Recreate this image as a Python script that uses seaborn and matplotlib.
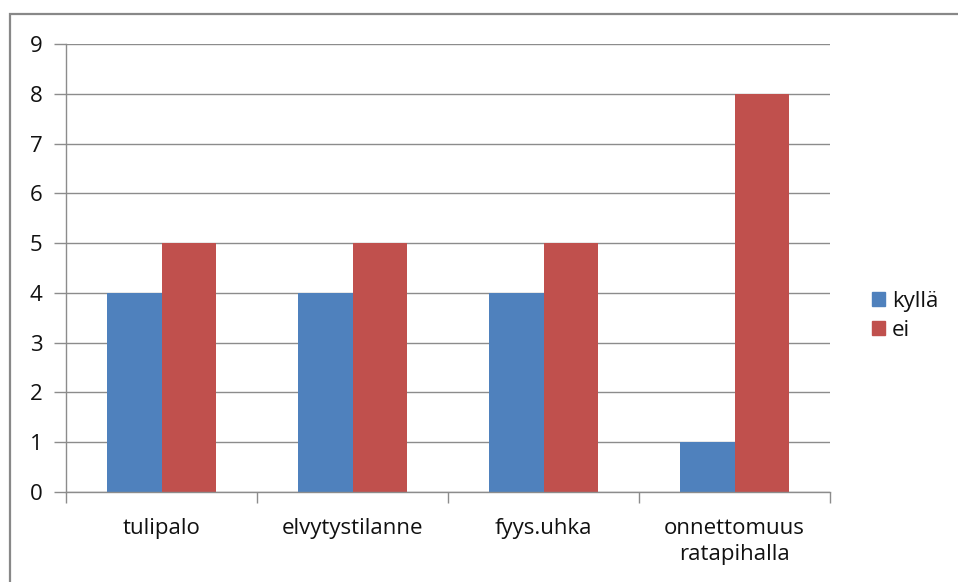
import matplotlib
matplotlib.use("Agg")
import matplotlib.pyplot as plt
import matplotlib.patches as mpatches
import numpy as np
import pandas as pd
import seaborn as sns

# data
categories = ["tulipalo", "elvytystilanne", "fyys.uhka", "onnettomuus\nratapihalla"]
kylla = [4, 4, 4, 1]
ei = [5, 5, 5, 8]
series_names = ["kyllä", "ei"]
colors = ["#4F81BD", "#C0504D"]

df = pd.DataFrame({
    "kategoria": categories * 2,
    "sarja": [series_names[0]] * 4 + [series_names[1]] * 4,
    "arvo": kylla + ei,
})

sns.set_style("white")
plt.rcParams["font.family"] = ["Open Sans", "DejaVu Sans"]

W, H = 958, 582
fig = plt.figure(figsize=(W / 100, H / 100), dpi=100)
ax = fig.add_axes([66 / W, (H - 492) / H, (830 - 66) / W, (492 - 44) / H])

sns.barplot(data=df, x="kategoria", y="arvo", hue="sarja", order=categories,
            hue_order=series_names, palette=colors, width=0.575, gap=0,
            saturation=1, edgecolor="none", linewidth=0, legend=True, ax=ax)

grid_c = "#8C8C8C"
txt_c = "#111111"
ax.set_xlim(-0.5, 3.5)
ax.set_ylim(0, 9)
ax.set_yticks(range(0, 10))
ax.yaxis.grid(True, color=grid_c, linewidth=1)
ax.set_axisbelow(True)
for s in ["top", "right"]:
    ax.spines[s].set_visible(False)
for s in ["left", "bottom"]:
    ax.spines[s].set_color(grid_c)
    ax.spines[s].set_linewidth(1)

ax.set_xlabel("")
ax.set_ylabel("")
ax.tick_params(axis="y", left=True, length=9, width=1, color=grid_c,
               labelsize=16, labelcolor=txt_c, pad=8)
ax.tick_params(axis="x", which="major", bottom=False, labelsize=16,
               labelcolor=txt_c, pad=15)
for lab in ax.get_xticklabels():
    lab.set_linespacing(1.35)
ax.set_xticks(np.arange(-0.5, 4.0, 1.0), minor=True)
ax.tick_params(axis="x", which="minor", bottom=True, length=8, width=1,
               color=grid_c, direction="out")

handles = [mpatches.Patch(color=c, label=n) for c, n in zip(colors, series_names)]
leg = ax.legend(handles=handles, loc="center left", bbox_to_anchor=(872 / W, (H - 316) / H),
                bbox_transform=fig.transFigure, frameon=False, fontsize=16,
                handlelength=0.6, handleheight=0.6, handletextpad=0.3,
                labelspacing=0.35, borderaxespad=0, borderpad=0)
for t in leg.get_texts():
    t.set_color(txt_c)

# outer chart border (extends beyond right and bottom edges)
fig.patches.append(mpatches.Rectangle((10 / W, -0.2), 1.2, (H - 14) / H + 0.2,
                                      transform=fig.transFigure, fill=False,
                                      edgecolor="#888888", linewidth=1.6))

fig.savefig("out.png", dpi=100)
